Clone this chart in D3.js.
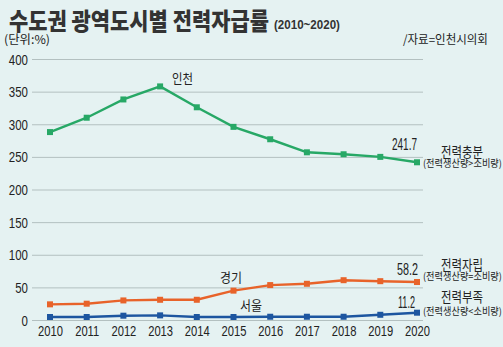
<!DOCTYPE html>
<html><head><meta charset="utf-8">
<script src="https://cdn.jsdelivr.net/npm/d3@7"></script>
<style>
body{margin:0;background:#e5f2f2;}
svg{display:block;}
</style></head>
<body>
<svg id="c" width="503" height="347"></svg>
<script>
const years = [2010,2011,2012,2013,2014,2015,2016,2017,2018,2019,2020];
const incheon = [288,310,338,358,326,296,277,257,254,250,241.7];
const gyeonggi = [24,25,30,31,31,45,53.5,55.5,61,59.5,58.2];
const seoul = [4.6,4.6,6.6,7.1,4.6,4.6,5,5,5,8,11.2];
const yTicks = [0,50,100,150,200,250,300,350,400];

const KR = "'Noto Sans CJK KR','Noto Sans',sans-serif";
const NUM = "'Liberation Sans',Arial,sans-serif";

const svg = d3.select("#c");
svg.append("rect").attr("width",503).attr("height",347).attr("fill","#e5f2f2");

const x = d3.scalePoint().domain(years).range([50,417]);
const y = d3.scaleLinear().domain([0,400]).range([320,59]);

// gridlines + y labels
const gy = d3.axisLeft(y).tickValues(yTicks).tickSize(-391).tickFormat(d=>d);
const gAxis = svg.append("g").attr("transform","translate(32,0)").call(gy);
gAxis.select(".domain").remove();
gAxis.selectAll(".tick line").attr("stroke","#b3c0c0").attr("stroke-width",1);
gAxis.selectAll(".tick text").attr("x",-5).attr("dy","0.36em").attr("font-family",NUM).attr("font-size",14).attr("fill","#222")
  .attr("transform","scale(0.82,1)");

const xa = d3.axisBottom(x).tickSize(0).tickPadding(0);
const xAxis = svg.append("g").attr("transform","translate(0,336)").call(xa);
xAxis.select(".domain").remove();
xAxis.selectAll(".tick text").attr("y",0).attr("dy",0).attr("font-family",NUM).attr("font-size",14).attr("fill","#222")
  .attr("transform","scale(0.8,1)");

const series = [
  {vals:incheon, color:"#27a866"},
  {vals:gyeonggi, color:"#e8632a"},
  {vals:seoul, color:"#1d56a0"}
];
const line = d3.line().x((d,i)=>x(years[i])).y(d=>y(d));
series.forEach(s=>{
  svg.append("path").attr("d",line(s.vals)).attr("fill","none").attr("stroke",s.color).attr("stroke-width",2.4);
  svg.selectAll(null).data(s.vals).enter().append("rect")
    .attr("x",(d,i)=>x(years[i])-3).attr("y",d=>y(d)-3).attr("width",6).attr("height",6).attr("fill",s.color);
});

// text fitted to a target width by horizontal scaling
const lab = (tx,ty,t,fs,font,len,weight)=>{
  const el = svg.append("text").attr("x",0).attr("y",0).attr("font-family",font).attr("font-size",fs)
    .attr("fill","#222").text(t);
  if(weight) el.attr("font-weight",weight);
  const w = el.node().getComputedTextLength();
  const sx = len && w ? len/w : 1;
  el.attr("transform",`translate(${tx},${ty}) scale(${sx},1)`);
  return el;
};

// title
lab(9,30,"수도권 광역도시별 전력자급률",24,KR,260,900).attr("fill","#333");
lab(274,29,"(2010~2020)",12,NUM,66,700).attr("fill","#333");
lab(4,44,"(단위:%)",12,KR,46);
lab(403,44,"/자료=인천시의회",12,KR,85);

// series labels
lab(172,83,"인천",13,KR,21);
lab(220,282,"경기",13,KR,22);
lab(240,310,"서울",13,KR,22);
lab(392,150,"241.7",16,NUM,25);
lab(397,275,"58.2",16,NUM,21);
lab(398,308,"11.2",16,NUM,17);
lab(441,157,"전력충분",14,KR,42);
lab(423,167,"(전력생산량>소비량)",10,KR,79);
lab(441,270,"전력자립",14,KR,42);
lab(423,280,"(전력생산량=소비량)",10,KR,79);
lab(441,302,"전력부족",14,KR,42);
lab(423,315,"(전력생산량<소비량)",10,KR,79);
</script>
</body></html>
